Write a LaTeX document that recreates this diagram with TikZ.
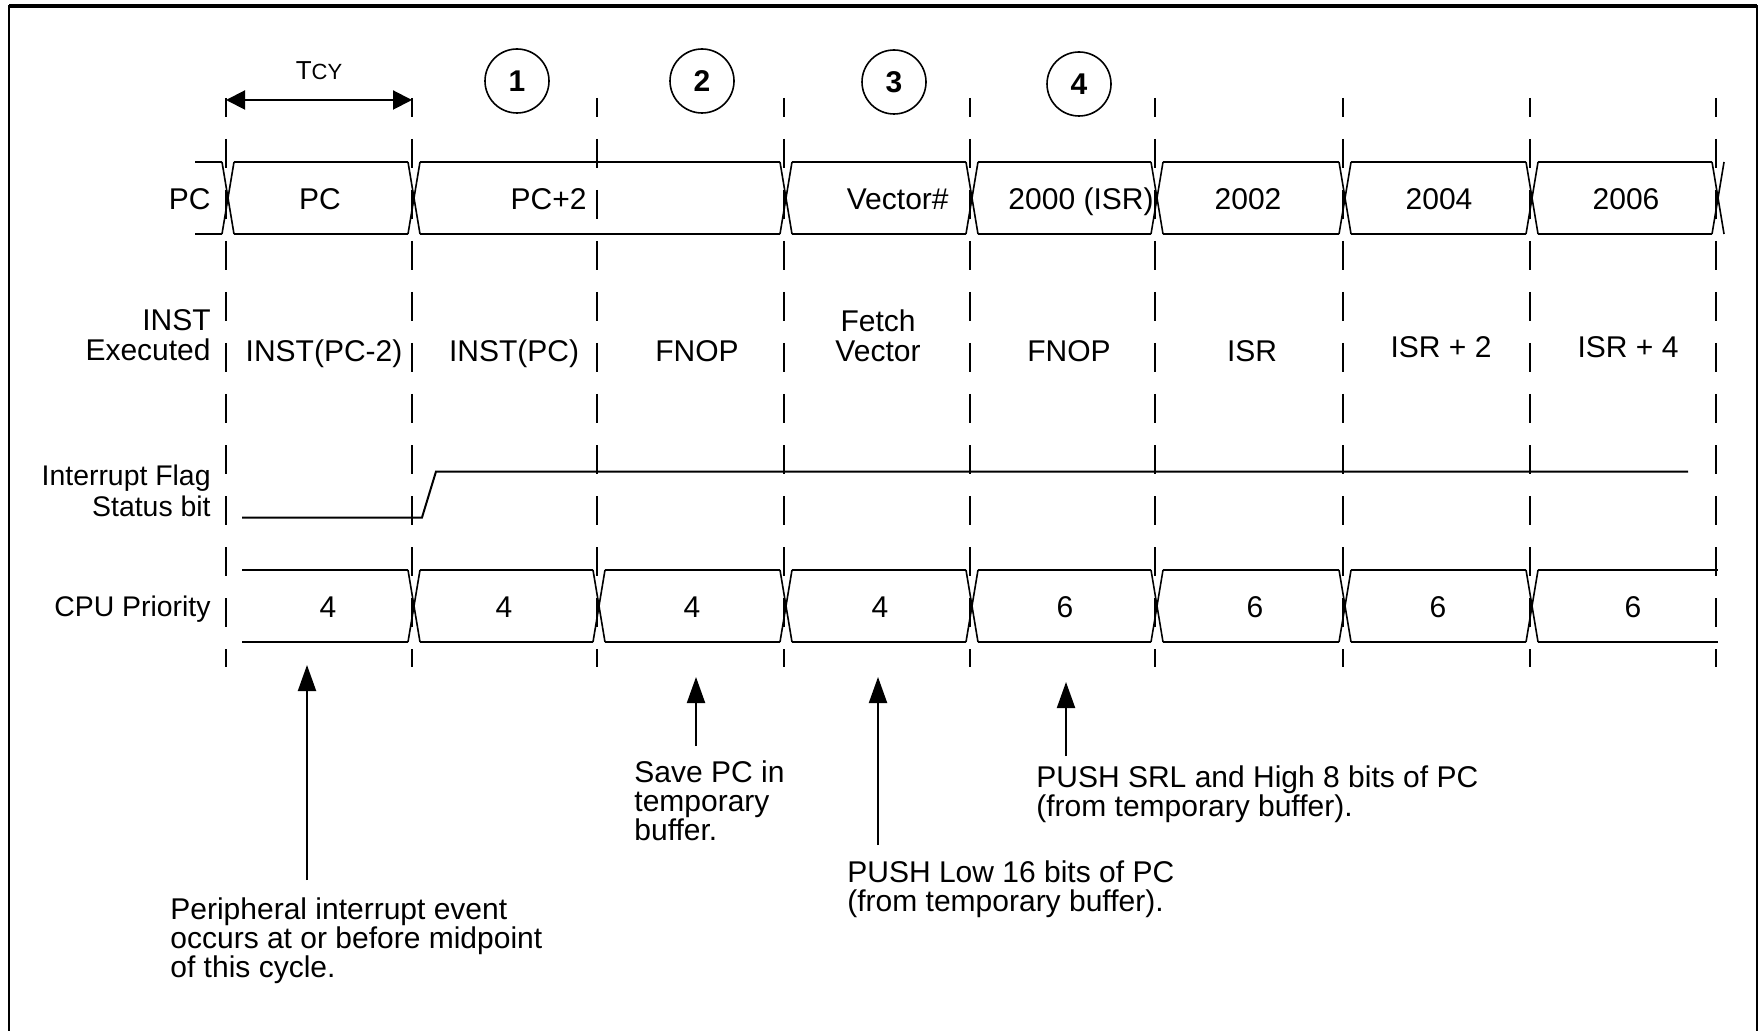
\documentclass[tikz,border=0pt]{standalone}
\usepackage{fontspec}
\setmainfont{Liberation Sans}
\usetikzlibrary{arrows.meta}
\begin{document}
\begin{tikzpicture}[x=0.5pt,y=-0.5pt,
  txt/.style={font=\fontsize{15}{15}\selectfont, inner sep=0pt, text=black},
  lab/.style={txt, anchor=base east},
  val/.style={txt, anchor=base},
  mlab/.style={txt, align=right, anchor=base east},
  ann/.style={txt, font=\fontsize{15}{14.5}\selectfont, align=left, anchor=base west},
  bus/.style={line width=1pt},
  xing/.style={line width=0.8pt},
  gridline/.style={line width=1pt, dash pattern=on 14.5pt off 11pt, dash phase=5pt},
  numc/.style={circle, draw, line width=0.8pt, minimum size=32pt, inner sep=0pt, font=\fontsize{15}{16}\selectfont\bfseries},
  annarrow/.style={line width=1pt, -{Triangle[length=13pt,width=9pt]}},
  dimarrow/.style={line width=1pt, {Triangle[length=9.5pt,width=9.5pt]}-{Triangle[length=9.5pt,width=9.5pt]}},
]
\useasboundingbox (0,0) rectangle (1764,1031);

% frame
\draw[line width=1pt] (9,1031) -- (9,6) -- (1757,6) -- (1757,1031);
\draw[line width=1.6pt] (9,6) -- (1757,6);

% dashed cycle boundaries
\foreach \x [count=\i from 0] in {226,412,597,784,970,1155,1343,1530,1716} {
  \coordinate (g\i t) at (\x,98);
  \coordinate (g\i b) at (\x,667);
  \draw[gridline] (g\i t) -- (g\i b);
}

% TCY
\coordinate (t0) at (226,100);
\coordinate (t1) at (412,100);
\draw[dimarrow] (t0) -- (t1);
\node[txt, anchor=base] (tcy) at (319,80) {\fontsize{13}{14}\selectfont T\fontsize{11}{12}\selectfont CY};

% circled numbers
\node[numc] (n1) at (517,81) {1};
\node[numc] (n2) at (702,81) {2};
\node[numc] (n3) at (894,82) {3};
\node[numc] (n4) at (1079,84) {4};

% PC bus
\foreach \a/\b in {195/222,234/408,420/780,792/966,978/1151,1163/1339,1351/1526,1538/1712} {
  \draw[bus] (\a,162) -- (\b,162);
  \draw[bus] (\a,234) -- (\b,234);
}
\foreach \c in {228,414,786,972,1157,1345,1532,1718} {
  \draw[xing] ({\c-6},162) -- ({\c+6},234);
  \draw[xing] ({\c-6},234) -- ({\c+6},162);
}

% CPU priority bus
\foreach \a/\b in {242/408,420/593,605/780,792/966,978/1151,1163/1339,1351/1526,1538/1718} {
  \draw[bus] (\a,570) -- (\b,570);
  \draw[bus] (\a,642) -- (\b,642);
}
\foreach \c in {414,599,786,972,1157,1345,1532} {
  \draw[xing] ({\c-6},570) -- ({\c+6},642);
  \draw[xing] ({\c-6},642) -- ({\c+6},570);
}

% interrupt flag
\draw[bus] (242,517.5) -- (422,517.5) -- (436,471.5) -- (1688,471.5);

% row labels
\node[lab] (lpc) at (211,210) {PC};
\node[mlab] (linst) at (211,361) {INST\\Executed};
\node[mlab, font=\fontsize{14.2}{15.5}\selectfont] (lif) at (211,516) {Interrupt Flag\\Status bit};
\node[lab, font=\fontsize{14.2}{15}\selectfont] (lcpu) at (211,616) {CPU Priority};

% PC values
\node[val] (p0) at (320,210) {PC};
\node[lab] (p1) at (587,210) {PC+2};
\node[lab] (p2) at (949,210) {Vector\#};
\node[val] (p3) at (1081,210) {2000 (ISR)};
\node[val] (p4) at (1248,210) {2002};
\node[val] (p5) at (1439,210) {2004};
\node[val] (p6) at (1626,210) {2006};

% instructions
\node[val] (i0) at (324,362) {INST(PC-2)};
\node[val] (i1) at (514,362) {INST(PC)};
\node[val] (i2) at (697,362) {FNOP};
\node[txt, align=center, anchor=base] (i3) at (878,362) {Fetch\\Vector};
\node[val] (i4) at (1069,362) {FNOP};
\node[val] (i5) at (1252,362) {ISR};
\node[val] (i6) at (1441,358) {ISR + 2};
\node[val] (i7) at (1628,358) {ISR + 4};

% CPU priority values
\node[val] (c0) at (328,617) {4};
\node[val] (c1) at (504,617) {4};
\node[val] (c2) at (692,617) {4};
\node[val] (c3) at (880,617) {4};
\node[val] (c4) at (1065,617) {6};
\node[val] (c5) at (1255,617) {6};
\node[val] (c6) at (1438,617) {6};
\node[val] (c7) at (1633,617) {6};

% annotations
\node[ann] (an1) at (170,977) {Peripheral interrupt event\\occurs at or before midpoint\\of this cycle.};
\node[ann] (an2) at (634,840) {Save PC in\\temporary\\buffer.};
\node[ann] (an3) at (847,911) {PUSH Low 16 bits of PC\\(from temporary buffer).};
\node[ann] (an4) at (1036,816) {PUSH SRL and High 8 bits of PC\\(from temporary buffer).};

\coordinate (a1s) at (307,880);   \coordinate (a1e) at (307,665);
\coordinate (a2s) at (696,746);   \coordinate (a2e) at (696,677);
\coordinate (a3s) at (878,845);   \coordinate (a3e) at (878,677);
\coordinate (a4s) at (1066,756);  \coordinate (a4e) at (1066,682);
\draw[annarrow] (a1s) -- (a1e);
\draw[annarrow] (a2s) -- (a2e);
\draw[annarrow] (a3s) -- (a3e);
\draw[annarrow] (a4s) -- (a4e);
\end{tikzpicture}
\end{document}
